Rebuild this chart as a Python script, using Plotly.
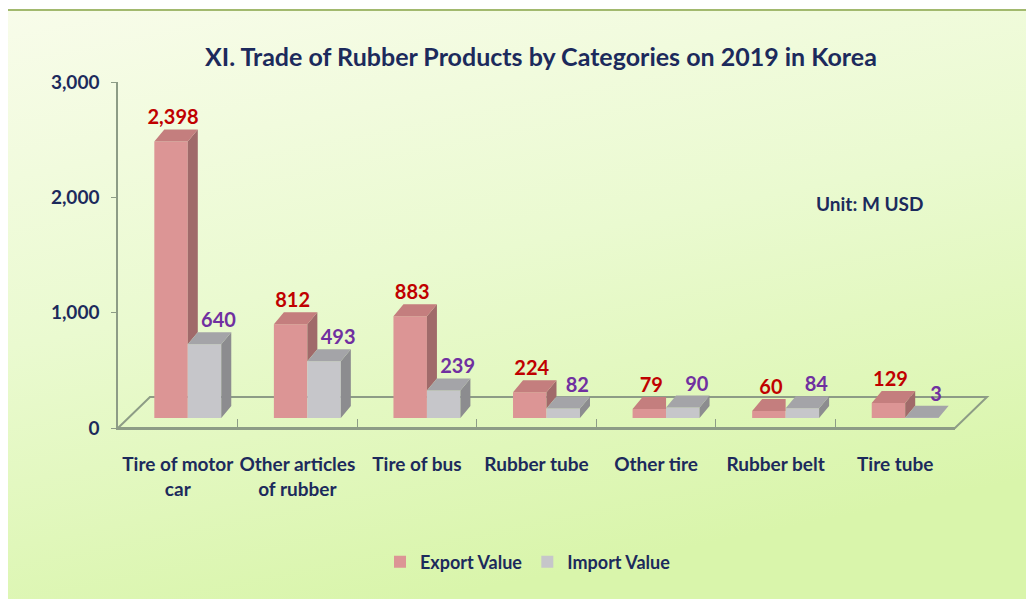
import base64
import plotly.graph_objects as go

# data
categories = ["Tire of motor<br>car", "Other articles<br>of rubber", "Tire of bus",
              "Rubber tube", "Other tire", "Rubber belt", "Tire tube"]
export_value = [2398, 812, 883, 224, 79, 60, 129]
import_value = [640, 493, 239, 82, 90, 84, 3]
y_ticks = [0, 1000, 2000, 3000]

# the page body adds an 8px margin, so the figure is drawn 8px smaller and shifted
OFF = 8
W, H = 1034 - OFF, 599 - OFF
FONT = "Lato, Roboto, Liberation Sans, sans-serif"
NAVY = "#1c2a5c"
LINE = "#8d9c86"

# front plane of the 3d box (screen px), shift of the bar plane and of the floor back edge
X0, X1, Y0, YTOP = 118, 955, 428, 82
BAR_SHIFT = (10, -10)
FLOOR_DEPTH = (32, -31)
YMAX = 3000

cat_px = (X1 - X0) / len(categories)
val_px = (Y0 - YTOP) / YMAX
bw = 0.28                 # bar width in category units
dx = 10 / cat_px          # bar depth in data units
dy = 12 / val_px


def px(x, y):
    return (x - OFF) / W, 1 - (y - OFF) / H


idx = list(range(len(categories)))

fig = go.Figure()

# invisible trace so the front category axis has its labels
fig.add_trace(go.Scatter(x=categories, y=[0] * len(categories), mode="markers",
                         marker=dict(opacity=0), showlegend=False, hoverinfo="skip",
                         xaxis="x", yaxis="y"))

# front faces
fig.add_trace(go.Bar(x=idx, y=export_value, width=bw, offset=-bw, name="Export Value",
                     marker=dict(color="#dc9595", line=dict(width=0)),
                     xaxis="x2", yaxis="y2"))
fig.add_trace(go.Bar(x=idx, y=import_value, width=bw, offset=0, name="Import Value",
                     marker=dict(color="#c6c6ca", line=dict(width=0)),
                     xaxis="x2", yaxis="y2"))


def faces(lefts, vals, hide_below=None):
    side_x, side_y, top_x, top_y = [], [], [], []
    for k, (l, v) in enumerate(zip(lefts, vals)):
        r = l + bw
        lo = 0
        hidden = hide_below is not None and v < hide_below[k]
        if hide_below is not None:
            lo = min(hide_below[k], v)
        side_x += [r, r + dx, r + dx, r, r, None]
        side_y += [lo, lo + dy, v + dy, v, lo, None]
        if hidden:
            # the part of the top face behind the next bar is not visible
            top_x += [l, l + dx, r, r, l, None]
        else:
            top_x += [l, l + dx, r + dx, r, l, None]
        top_y += [v, v + dy, v + dy, v, v, None]
    return side_x, side_y, top_x, top_y


ex_side_x, ex_side_y, ex_top_x, ex_top_y = faces([i - bw for i in idx], export_value, import_value)
im_side_x, im_side_y, im_top_x, im_top_y = faces(idx, import_value)

for fx, fy, col in [(ex_side_x, ex_side_y, "#a06a6a"), (ex_top_x, ex_top_y, "#c47e7e"),
                    (im_side_x, im_side_y, "#8c8c8f"), (im_top_x, im_top_y, "#a4a4a8")]:
    fig.add_trace(go.Scatter(x=fx, y=fy, mode="lines", fill="toself", fillcolor=col,
                             line=dict(width=0, color=col), showlegend=False,
                             hoverinfo="skip", xaxis="x2", yaxis="y2"))

# data labels
fig.add_trace(go.Scatter(x=[i - bw / 2 + 0.2 * dx for i in idx], y=[v + dy for v in export_value],
                         mode="text", text=[f"{v:,}" for v in export_value],
                         textposition="top center", showlegend=False, hoverinfo="skip",
                         textfont=dict(family=FONT, size=20, color="#c00000", weight=700),
                         xaxis="x2", yaxis="y2"))
fig.add_trace(go.Scatter(x=[i + bw / 2 + 1.4 * dx for i in idx], y=[v + dy for v in import_value],
                         mode="text", text=[f"{v:,}" for v in import_value],
                         textposition="top center", showlegend=False, hoverinfo="skip",
                         textfont=dict(family=FONT, size=20, color="#7030a0", weight=700),
                         xaxis="x2", yaxis="y2"))

# background gradient
svg = ('<svg xmlns="http://www.w3.org/2000/svg" width="1030" height="590" preserveAspectRatio="none">'
       '<defs><linearGradient id="g" x1="0" y1="0" x2="0.35" y2="1">'
       '<stop offset="0" stop-color="#f8fcea"/><stop offset="0.5" stop-color="#eafad0"/>'
       '<stop offset="1" stop-color="#d9f5ab"/></linearGradient></defs>'
       '<rect width="1030" height="590" fill="url(#g)"/></svg>')
bg_src = "data:image/svg+xml;base64," + base64.b64encode(svg.encode()).decode()

bx, by = px(7, 10)
floor_pts = [px(X0, Y0), px(X0 + FLOOR_DEPTH[0], Y0 + FLOOR_DEPTH[1]),
             px(X1 + FLOOR_DEPTH[0], Y0 + FLOOR_DEPTH[1]), px(X1, Y0)]
floor_path = "M " + " L ".join(f"{a:.5f},{b:.5f}" for a, b in floor_pts) + " Z"

xf0, yf0 = px(X0, Y0)
xf1, yf1 = px(X1, YTOP)
xb0, yb0 = px(X0 + BAR_SHIFT[0], Y0 + BAR_SHIFT[1])
xb1, yb1 = px(X1 + BAR_SHIFT[0], YTOP + BAR_SHIFT[1])
tx, ty = px(541, 57)
ux, uy = px(869, 204)
lx, ly = px(528, 562)

fig.update_layout(
    width=W, height=H,
    margin=dict(l=0, r=0, t=0, b=0),
    paper_bgcolor="white",
    plot_bgcolor="rgba(0,0,0,0)",
    barmode="overlay",
    font=dict(family=FONT, color=NAVY, size=19, weight=700),
    title=dict(text="XI. Trade of Rubber Products by Categories on 2019 in Korea",
               x=tx, xanchor="center", y=ty, yanchor="middle",
               font=dict(family=FONT, size=25, color=NAVY, weight=700)),
    images=[dict(source=bg_src, xref="paper", yref="paper", x=bx, y=by,
                 sizex=1.02 - bx, sizey=by + 0.02, xanchor="left", yanchor="top",
                 sizing="stretch", layer="below")],
    shapes=[
        dict(type="rect", xref="paper", yref="paper", x0=bx, y0=-0.02, x1=1.02, y1=by,
             line=dict(color="#a2b96e", width=2), fillcolor="rgba(0,0,0,0)", layer="below"),
        dict(type="path", xref="paper", yref="paper", path=floor_path,
             line=dict(color=LINE, width=2), fillcolor="rgba(0,0,0,0)", layer="below"),
    ],
    xaxis=dict(domain=[xf0, xf1], type="category", range=[-0.5, len(categories) - 0.5],
               tickson="boundaries", ticks="inside", ticklen=9, tickcolor=LINE, tickangle=0,
               showline=True, linecolor=LINE, linewidth=2, showgrid=False, zeroline=False,
               ticklabelstandoff=18, tickfont=dict(size=19), anchor="y", fixedrange=True,
               automargin=False),
    yaxis=dict(domain=[yf0, yf1], range=[0, YMAX], tickvals=y_ticks,
               tickformat=",", ticks="outside", ticklen=5, tickcolor=LINE,
               showline=True, linecolor=LINE, linewidth=1.5, showgrid=False, zeroline=False,
               ticklabelstandoff=8, tickfont=dict(size=19), anchor="x", fixedrange=True,
               automargin=False),
    xaxis2=dict(domain=[xb0, xb1], range=[-0.5, len(categories) - 0.5], visible=False,
                anchor="y2", automargin=False),
    yaxis2=dict(domain=[yb0, yb1], range=[0, YMAX], visible=False, anchor="x2",
                automargin=False),
    legend=dict(orientation="h", x=lx, xanchor="center", y=ly, yanchor="middle",
                font=dict(size=18, color=NAVY), bgcolor="rgba(0,0,0,0)"),
    annotations=[dict(text="Unit: M USD", xref="paper", yref="paper", x=ux, y=uy,
                      xanchor="center", yanchor="middle",
                      showarrow=False, font=dict(size=19, color=NAVY))],
)

fig.write_html("out.html")
